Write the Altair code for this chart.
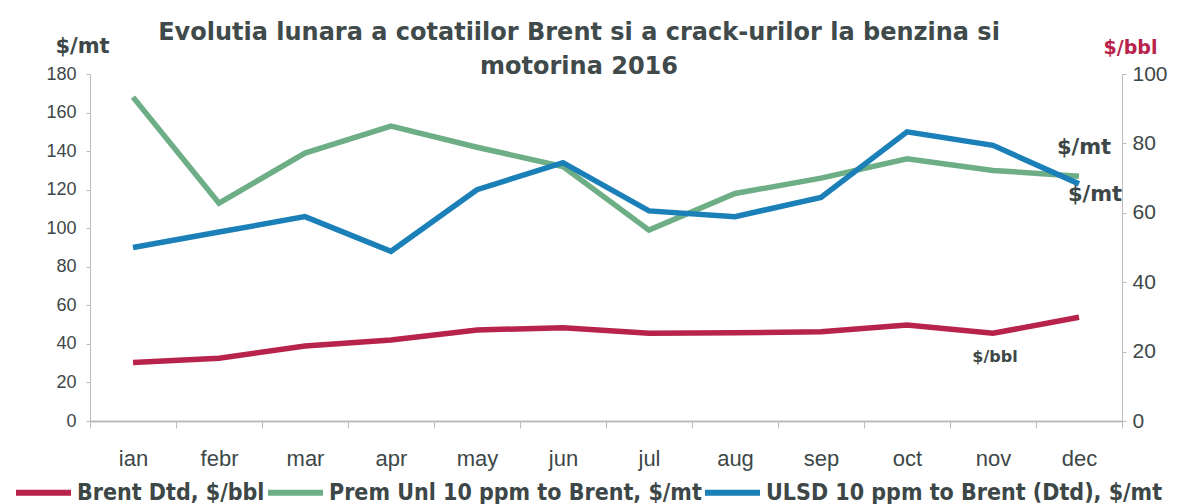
import altair as alt
import pandas as pd

months = ["ian", "febr", "mar", "apr", "may", "jun", "jul", "aug", "sep", "oct", "nov", "dec"]
brent = [30.4, 32.5, 38.9, 42.0, 47.2, 48.4, 45.5, 45.8, 46.3, 49.8, 45.5, 53.8]
prem = [168, 113, 139, 153, 142, 132, 99, 118, 126, 136, 130, 127]
ulsd = [90, 98, 106, 88, 120, 134, 109, 106, 116, 150, 143, 123]
series_names = ["Brent Dtd, $/bbl", "Prem Unl 10 ppm to Brent, $/mt", "ULSD 10 ppm to Brent (Dtd), $/mt"]
colors = ["#B8234B", "#6DAE86", "#1B7FB8"]

note_text = ["$/mt", "$/mt", "$/bbl"]
note_month = ["dec", "dec", "nov"]
note_value = [141.5, 117, 33]
note_dx = [48, 59, 45]
note_size = [21, 21, 16]

rows = []
for name, vals in zip(series_names, [brent, prem, ulsd]):
    for m, v in zip(months, vals):
        rows.append({"month": m, "value": v, "series": name})
df = pd.DataFrame(rows)
notes = pd.DataFrame({"text": note_text, "month": note_month, "value": note_value,
                      "dx": note_dx, "size": note_size})

LABEL_FONT = "Liberation Sans Narrow, Liberation Sans, sans-serif"
BOLD_FONT = "DejaVu Sans, Verdana, sans-serif"
TXT = "#3D4747"

x_axis = alt.Axis(labelAngle=0, tickBand="extent", tickSize=7, labelPadding=20,
                  labelFont=LABEL_FONT, labelFontSize=22, labelColor=TXT,
                  domainColor="#BBBBBB", tickColor="#BBBBBB", domainWidth=2)
x_scale = alt.Scale(domain=months, paddingInner=0, paddingOuter=0)

y_axis = alt.Axis(values=list(range(0, 181, 20)), title="$/mt", titleAngle=0,
                  titleX=-8, titleY=-18, titleAlign="center", titleFont=BOLD_FONT,
                  titleFontSize=21, titleFontWeight="bold", titleColor=TXT,
                  labelFont=LABEL_FONT, labelFontSize=18, labelColor=TXT,
                  labelOverlap=False, labelPadding=10,
                  domainColor="#BBBBBB", tickColor="#BBBBBB", tickSize=4, grid=False)
y_scale = alt.Scale(domain=[0, 180])

lines = alt.Chart(df).mark_line(strokeWidth=5.5).encode(
    x=alt.X("month:N", sort=months, title=None, scale=x_scale, axis=x_axis),
    y=alt.Y("value:Q", title="$/mt", scale=y_scale, axis=y_axis),
    color=alt.Color("series:N", sort=series_names,
                    scale=alt.Scale(domain=series_names, range=colors),
                    legend=alt.Legend(title=None, orient="none", direction="horizontal",
                                      legendX=-77, legendY=388, symbolType="stroke",
                                      symbolSize=3025, symbolStrokeWidth=6,
                                      labelFont="DejaVu Sans Condensed, DejaVu Sans, sans-serif",
                                      labelFontWeight="bold", labelFontSize=23, labelColor=TXT,
                                      labelOffset=3, columnPadding=-20, labelLimit=700)),
)

texts = alt.Chart(notes).mark_text(fontWeight="bold", font=BOLD_FONT, color=TXT).encode(
    x=alt.X("month:N", sort=months, title=None, scale=x_scale, axis=x_axis),
    y=alt.Y("value:Q", title="$/mt", scale=y_scale, axis=y_axis),
    text="text:N",
    xOffset=alt.XOffset("dx:Q", scale=None),
    size=alt.Size("size:Q", scale=None, legend=None),
)

left = alt.layer(lines, texts)

right = alt.Chart(df).mark_point(opacity=0).encode(
    y=alt.YDatum(0, scale=alt.Scale(domain=[0, 100]),
                 axis=alt.Axis(orient="right", values=list(range(0, 101, 20)), title="$/bbl",
                               titleAngle=0, titleX=8, titleY=-17, titleAlign="center",
                               titleFont=BOLD_FONT, titleFontSize=19, titleFontWeight="bold",
                               titleColor="#B8234B", labelFont=LABEL_FONT, labelFontSize=21,
                               labelColor=TXT, labelPadding=6, labelOverlap=False,
                               domainColor="#BBBBBB",
                               tickColor="#BBBBBB", tickSize=4, grid=False)),
)

chart = alt.layer(left, right).resolve_scale(y="independent").properties(
    width=1032, height=347,
    autosize=alt.AutoSizeParams(type="none"),
    padding={"left": 82, "top": 66, "right": 70, "bottom": 83},
    title=alt.TitleParams(
        text=["Evolutia lunara a cotatiilor Brent si a crack-urilor la benzina si", "motorina 2016"],
        anchor="middle", frame="group", font=BOLD_FONT, fontSize=24, fontWeight="bold",
        color="#404A4A", offset=-44, dx=-27, lineHeight=34),
).configure_view(stroke=None)

chart.save("out.html", embed_options={"renderer": "svg", "actions": False})
